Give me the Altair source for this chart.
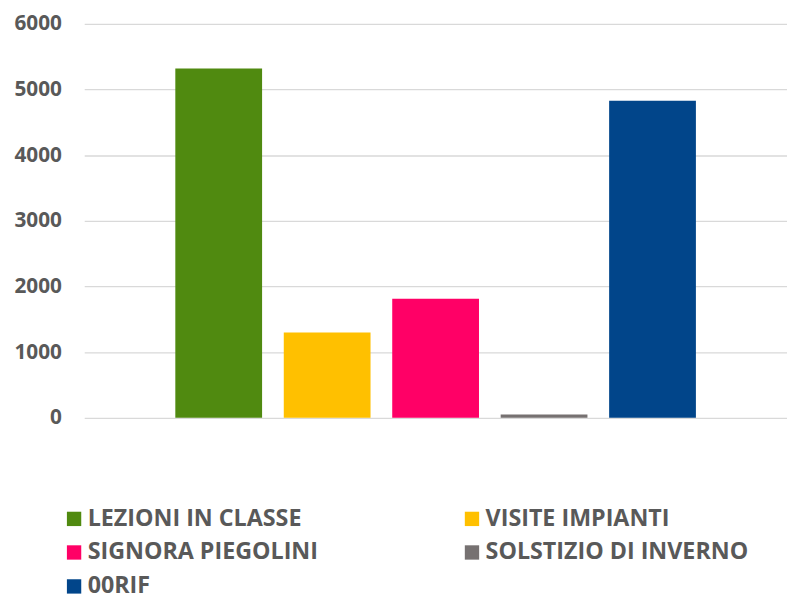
import altair as alt
import pandas as pd

series = ["LEZIONI IN CLASSE", "VISITE IMPIANTI", "SIGNORA PIEGOLINI", "SOLSTIZIO DI INVERNO", "00RIF"]
values = [5320, 1300, 1815, 50, 4830]
colors = ["#508A10", "#FFC000", "#FF0066", "#767171", "#01458A"]
y_ticks = [0, 1000, 2000, 3000, 4000, 5000, 6000]
# legend reads row by row in the reference (two columns)
legend_order = ["LEZIONI IN CLASSE", "SIGNORA PIEGOLINI", "00RIF", "VISITE IMPIANTI", "SOLSTIZIO DI INVERNO"]

df = pd.DataFrame({"serie": series, "valore": values})

FONT = "Open Sans"
TXT = "#595959"

chart = alt.Chart(df).mark_bar().encode(
    x=alt.X("serie:N", sort=series, axis=None,
            scale=alt.Scale(paddingInner=0.2, paddingOuter=0.84)),
    y=alt.Y("valore:Q",
            scale=alt.Scale(domain=[0, 6000], nice=False),
            axis=alt.Axis(values=y_ticks, format="d", title=None, ticks=False, domain=False,
                          labelFont=FONT, labelFontSize=21, labelFontWeight="bold",
                          labelColor=TXT, labelPadding=23,
                          gridColor="#D9D9D9", gridWidth=1.3)),
    color=alt.Color("serie:N",
                    scale=alt.Scale(domain=series, range=colors),
                    legend=alt.Legend(title=None, orient="none", legendX=-22, legendY=488,
                                      values=legend_order,
                                      columns=2, columnPadding=143, rowPadding=9.3,
                                      symbolType="square", symbolSize=210,
                                      symbolStrokeWidth=0, labelOffset=2,
                                      labelFont=FONT, labelFontSize=23.5,
                                      labelFontWeight="bold", labelColor=TXT,
                                      labelLimit=400)),
).properties(
    width=710,
    height=398,
    padding={"left": 77, "top": 13, "right": 0, "bottom": 177},
    autosize=alt.AutoSizeParams(type="none"),
).configure_view(stroke=None)

chart.save("out.html", embed_options={"renderer": "svg", "actions": False})
